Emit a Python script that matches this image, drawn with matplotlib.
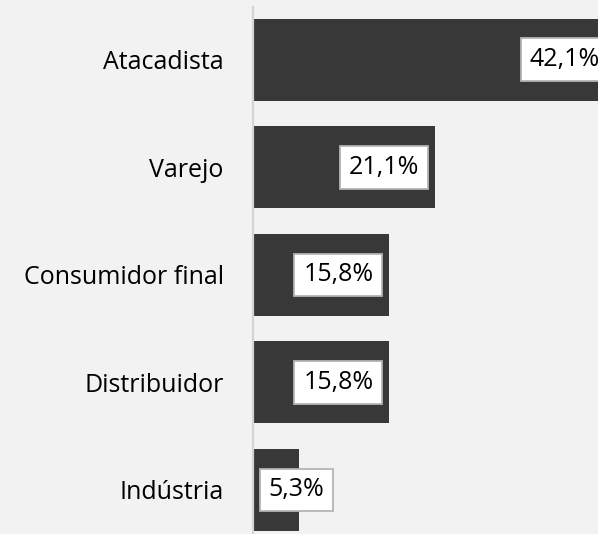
import matplotlib
matplotlib.use('Agg')
from matplotlib import pyplot as plt

categorias = ['Atacadista', 'Varejo', 'Consumidor final', 'Distribuidor', 'Indústria']
valores = [42.1, 21.1, 15.8, 15.8, 5.3]
rotulos = ['42,1%', '21,1%', '15,8%', '15,8%', '5,3%']

plt.rcParams['font.family'] = ['Open Sans', 'DejaVu Sans']
fundo = '#f2f2f2'

fig = plt.figure(figsize=(5.98, 5.34), dpi=100, facecolor=fundo)
ax = fig.add_axes([253 / 598, 0, 345 / 598, 527 / 534])
ax.set_facecolor(fundo)

y = list(range(len(categorias)))
ax.barh(y, valores, height=0.763, color='#383838')
ax.set_xlim(0, 40.1)
ax.set_ylim(4.41, -0.49)

ax.set_yticks(y)
ax.set_yticklabels(categorias, fontsize=18)
ax.tick_params(axis='y', length=0, pad=21)
ax.set_xticks([])
for lado in ['top', 'right', 'bottom']:
    ax.spines[lado].set_visible(False)
ax.spines['left'].set_color('#d4d4d4')
ax.spines['left'].set_linewidth(1.6)

caixa = dict(boxstyle='square,pad=0.35', facecolor='white', edgecolor='#b4b4b4', linewidth=1.3)
textos = []
for i, (v, r) in enumerate(zip(valores, rotulos)):
    t = ax.annotate(r, xy=(v, i), xytext=(-7 - 8.6, 0), textcoords='offset pixels',
                    ha='right', va='center', fontsize=18, bbox=caixa, annotation_clip=False)
    textos.append(t)

# rótulos que não cabem na barra ficam encostados no eixo
fig.canvas.draw()
r = fig.canvas.get_renderer()
x0 = ax.transData.transform((0, 0))[0]
for t, v, i in zip(textos, valores, y):
    bb = t.get_bbox_patch().get_window_extent(r)
    if bb.x0 < x0 + 7:
        t.set_ha('left')
        t.xy = (0, i)
        t.set_position((7 + 8.6, 0))

fig.savefig('out.png', dpi=100, facecolor=fundo)
